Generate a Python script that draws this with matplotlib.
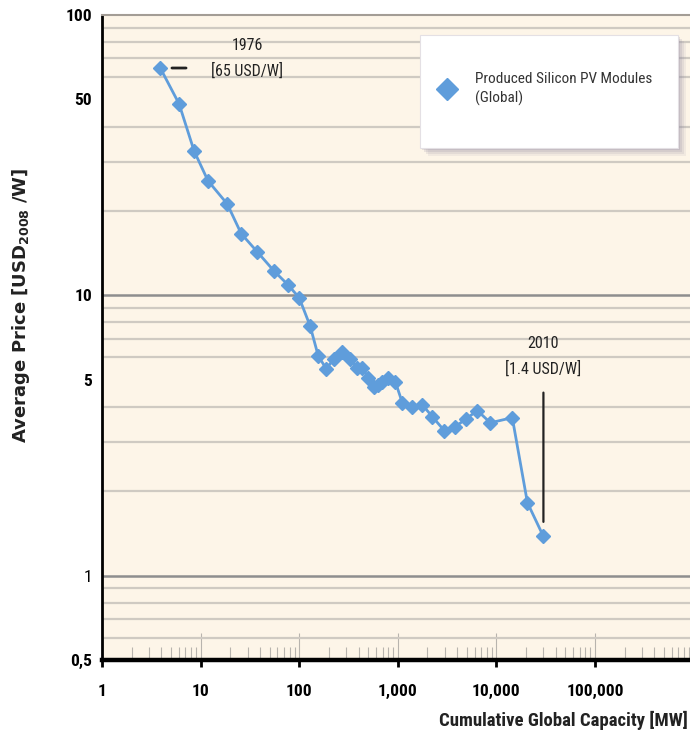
import matplotlib
matplotlib.use("Agg")
import matplotlib.pyplot as plt
import numpy as np
from matplotlib.ticker import FixedLocator, LogLocator, NullFormatter, FixedFormatter
from matplotlib.lines import Line2D
from matplotlib.patches import Rectangle, Shadow
from matplotlib import font_manager as fm

# ---- data ----
capacity_mw = [3.9, 6.05, 8.6, 11.9, 18.6, 25.8, 37.5, 55.7, 77, 100,
               129, 156, 188, 226, 273, 329, 388, 436, 502, 577,
               634, 696, 801, 944, 1111, 1403, 1774, 2240, 2965, 3835,
               4956, 6410, 8690, 14500, 20650, 30000]
price_usd_w = [64.7, 48.2, 32.7, 25.6, 21.2, 16.6, 14.3, 12.2, 10.9, 9.8,
               7.78, 6.08, 5.47, 5.94, 6.30, 5.94, 5.52, 5.52, 5.08, 4.72,
               4.80, 4.92, 5.08, 4.92, 4.14, 4.01, 4.07, 3.69, 3.29, 3.40,
               3.63, 3.88, 3.51, 3.66, 1.82, 1.38]
series_label = "Produced Silicon PV Modules\n(Global)"
x_ticks = [1, 10, 100, 1000, 10000, 100000]
x_ticklabels = ["1", "10", "100", "1,000", "10,000", "100,000"]
y_ticks = [0.5, 1, 5, 10, 50, 100]
y_ticklabels = ["0,5", "1", "5", "10", "50", "100"]
ann_1976 = "1976\n[65 USD/W]"
ann_2010 = "2010\n[1.4 USD/W]"

installed = {f.name for f in fm.fontManager.ttflist}
prefs = ["Roboto Condensed", "Liberation Sans Narrow", "DejaVu Sans Condensed",
         "Open Sans Condensed", "Roboto", "DejaVu Sans"]
FAM = [f for f in prefs if f in installed] or ["DejaVu Sans"]
if "DejaVu Sans" not in FAM:
    FAM.append("DejaVu Sans")
plt.rcParams["font.family"] = FAM
plt.rcParams["mathtext.fontset"] = "dejavusans"

BLUE = "#5F9DDB"
CREAM = "#FDF5E8"

fig = plt.figure(figsize=(6.9, 7.35), dpi=100)
ax = fig.add_axes([102/690, 1-660/735, 1-102/690, (660-15)/735])
ax.set_facecolor(CREAM)
ax.set_xscale("log")
ax.set_yscale("log")
ax.set_xlim(1, 9.2e5)
ax.set_ylim(0.5, 100)

# grid: minor horizontal lines
ax.yaxis.set_minor_locator(LogLocator(base=10, subs=np.arange(2, 10)))
ax.yaxis.set_minor_formatter(NullFormatter())
ax.grid(True, which="minor", axis="y", color="#CFCAC2", lw=1.6, zorder=0)
ax.axhline(1, color="#8E8E8E", lw=1.8, zorder=1)
ax.axhline(10, color="#8E8E8E", lw=1.8, zorder=1)

ax.yaxis.set_major_locator(FixedLocator(y_ticks))
ax.yaxis.set_major_formatter(FixedFormatter(y_ticklabels))
ax.tick_params(axis="y", which="both", length=0, pad=7, labelsize=12.5)
for t in ax.get_yticklabels():
    t.set_fontweight("normal" if t.get_text() == "1" else "bold")

ax.xaxis.set_major_locator(FixedLocator(x_ticks))
ax.xaxis.set_major_formatter(FixedFormatter(x_ticklabels))
ax.xaxis.set_minor_locator(LogLocator(base=10, subs=np.arange(2, 10)))
ax.xaxis.set_minor_formatter(NullFormatter())
ax.tick_params(axis="x", which="major", direction="in", length=19.5,
               width=0.8, color="#B8B4AE", pad=17, labelsize=12.5)
ax.tick_params(axis="x", which="minor", direction="in", length=9.5,
               width=0.8, color="#B8B4AE")
for t in ax.get_xticklabels():
    t.set_fontweight("bold")

sec = ax.secondary_xaxis("bottom")
sec.xaxis.set_major_locator(FixedLocator(x_ticks))
sec.xaxis.set_minor_locator(FixedLocator([]))
sec.tick_params(axis="x", which="major", direction="out", length=5,
                width=2, color="black", labelbottom=False)
sec.spines["bottom"].set_visible(False)

ax.spines["left"].set_color("black")
ax.spines["left"].set_linewidth(2)
ax.spines["bottom"].set_color("black")
ax.spines["bottom"].set_linewidth(3.2)
ax.spines["top"].set_color("#A39D96")
ax.spines["top"].set_linewidth(1.5)
ax.spines["right"].set_visible(False)

# data line
ax.plot(capacity_mw, price_usd_w, color=BLUE, lw=2, marker="D",
        markersize=7.3, markeredgecolor=BLUE, zorder=5, clip_on=False)

# annotations
ax.text(29.6, 70, ann_1976, ha="center", va="center", fontsize=11.5,
        linespacing=1.7, color="#222222", zorder=6)
ax.annotate("", xy=(4.8, price_usd_w[0]), xytext=(7.6, price_usd_w[0]),
            arrowprops=dict(arrowstyle="-", color="#222222", lw=2))
ax.text(capacity_mw[-1], 6.05, ann_2010, ha="center", va="center",
        fontsize=11.5, linespacing=1.7, color="#222222", zorder=6)
ax.annotate("", xy=(capacity_mw[-1], 1.52), xytext=(capacity_mw[-1], 4.6),
            arrowprops=dict(arrowstyle="-", color="#222222", lw=1.6))

# legend box (white panel with soft shadow)
box = Rectangle((420/690, 1-148/735), (678-420)/690, (148-35)/735,
                transform=fig.transFigure, facecolor="white",
                edgecolor="#E4E0E4", lw=0.8, zorder=8)
for i, a in enumerate([0.22, 0.18, 0.14, 0.10]):
    sh = Shadow(box, (1.5+i*1.5)/690, -(1.5+i*1.5)/735, facecolor="#9088A0",
                alpha=a, edgecolor="none", zorder=7)
    fig.add_artist(sh)
fig.add_artist(box)

handle = Line2D([], [], color=BLUE, marker="D", markersize=11, lw=0)
leg = fig.legend([handle], [series_label], loc="center left",
                 bbox_to_anchor=(435/690, 1-89/735), fontsize=11,
                 frameon=False, borderpad=0.2, handletextpad=1.3,
                 handlelength=1.15, borderaxespad=0)
leg.set_zorder(9)
for t in leg.get_texts():
    t.set_linespacing(1.45)
    t.set_color("#333333")

# axis labels
fig.text(21/690, 1-305/735, r"Average Price [USD$_{\mathbf{2008}}$ /W]",
         rotation=90, ha="center", va="center", fontsize=13,
         fontweight="bold", color="#222222", family="DejaVu Sans")
fig.text(688/690, 1-720/735, "Cumulative Global Capacity [MW]",
         ha="right", va="center", fontsize=13.5, fontweight="bold",
         color="#222222")

fig.savefig("out.png", dpi=100, facecolor="white")
